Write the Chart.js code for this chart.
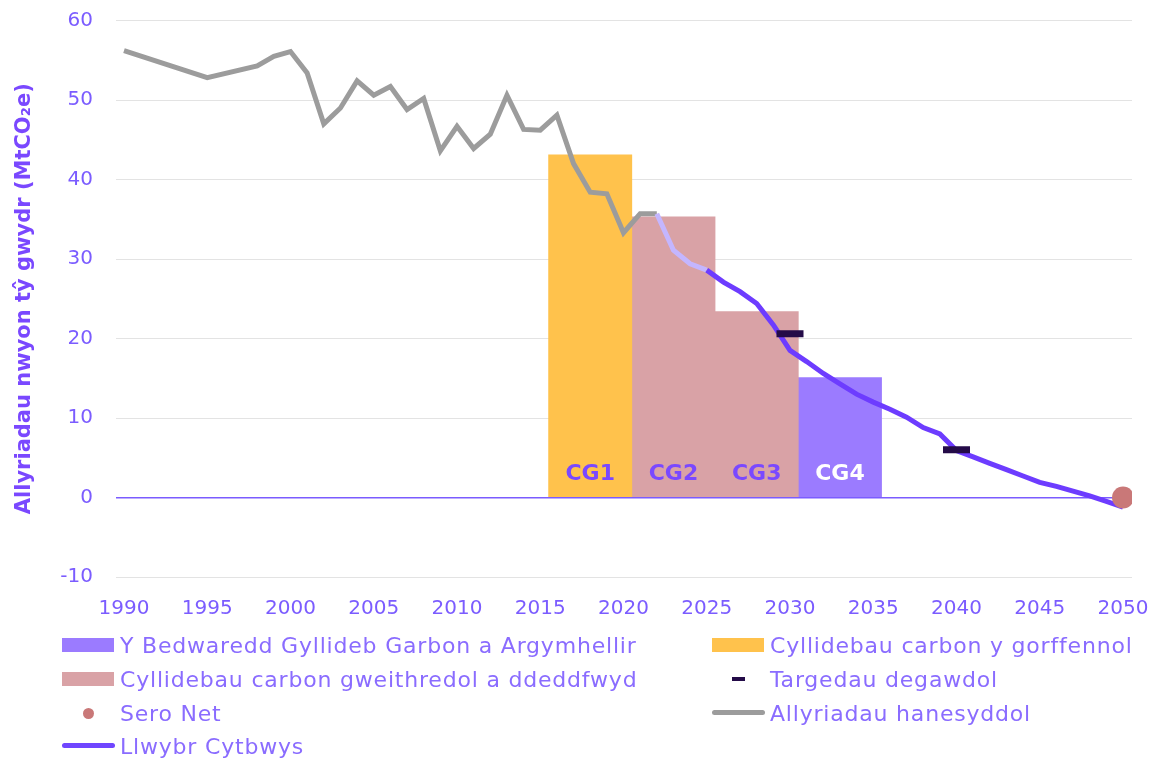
<!DOCTYPE html>
<html>
<head>
<meta charset="utf-8">
<script src="https://cdn.jsdelivr.net/npm/chart.js@4.4.1/dist/chart.umd.min.js"></script>
<style>
  body { margin: 0; background: #fff; }
  #wrap { position: relative; width: 1157px; height: 760px; }
  #myChart { position: absolute; left: 0; top: 0; }
  #legend { position: absolute; left: 0; top: 0; width: 1157px; height: 760px; pointer-events: none; }
  .item { position: absolute; height: 30px; display: flex; align-items: center; letter-spacing: 0.8px;
          font-family: "DejaVu Sans", sans-serif; font-size: 22px; color: #8a6cff; white-space: nowrap; }
  .mark { position: relative; width: 52px; height: 30px; margin-right: 6px; }
  .mark span { position: absolute; }
</style>
</head>
<body>
<div id="wrap">
  <canvas id="myChart" width="1157" height="630"></canvas>
  <div id="legend"></div>
</div>
<script>
// historical emissions (MtCO2e)
var histYears = [1990, 1995, 1998, 1999, 2000, 2001, 2002, 2003, 2004, 2005, 2006, 2007, 2008, 2009, 2010,
                 2011, 2012, 2013, 2014, 2015, 2016, 2017, 2018, 2019, 2020, 2021, 2022];
var histValues = [56.2, 52.8, 54.3, 55.5, 56.1, 53.4, 47.0, 49.0, 52.4, 50.6, 51.7, 48.8, 50.2, 43.6, 46.7,
                  43.9, 45.7, 50.6, 46.3, 46.2, 48.1, 42.0, 38.4, 38.2, 33.3, 35.7, 35.7];

// balanced pathway
var pathYears = [2022, 2023, 2024, 2025, 2026, 2027, 2028, 2029, 2030, 2031, 2032, 2033, 2034, 2035, 2036,
                 2037, 2038, 2039, 2040, 2041, 2042, 2043, 2044, 2045, 2046, 2047, 2048, 2049, 2050];
var pathValues = [35.7, 31.1, 29.4, 28.6, 27.1, 25.9, 24.4, 21.7, 18.5, 17.1, 15.6, 14.3, 13.0, 12.0, 11.1,
                  10.1, 8.8, 8.0, 5.9, 5.1, 4.3, 3.5, 2.7, 1.9, 1.4, 0.8, 0.2, -0.5, -1.2];

// carbon budgets (bar centre year, 5 year average level)
var budgetNames = ['CG1', 'CG2', 'CG3', 'CG4'];
var budgetYears = [2018, 2023, 2028, 2033];
var budgetValues = [43.1, 35.3, 23.4, 15.1];

var targetYears = [2030, 2040];
var targetValues = [20.6, 6.0];

var netZeroYear = [2050];
var netZeroValue = [0];

var tickYears = [1990, 1995, 2000, 2005, 2010, 2015, 2020, 2025, 2030, 2035, 2040, 2045, 2050];

var purple = '#7b5cff';
var pathDark = '#6d3cff';
var pathLight = '#c4b6ff';

function pts(xs, ys) {
    return xs.map(function(x, i) { return {x: x, y: ys[i]}; });
}

function barSet(label, idx, color) {
    return {
        type: 'bar', label: label, data: [{x: budgetYears[idx], y: budgetValues[idx]}],
        backgroundColor: color, grouped: false, barPercentage: 1, categoryPercentage: 1,
        order: 10, cgLabel: budgetNames[idx], cgColor: idx === 3 ? '#ffffff' : '#7a48ff'
    };
}

var cgLabels = {
    id: 'cgLabels',
    afterDatasetsDraw: function(chart) {
        var ctx = chart.ctx;
        var y0 = chart.scales.y.getPixelForValue(0);
        chart.data.datasets.forEach(function(ds, i) {
            if (!ds.cgLabel) return;
            chart.getDatasetMeta(i).data.forEach(function(bar) {
                ctx.save();
                ctx.font = 'bold 22px "DejaVu Sans"';
                ctx.fillStyle = ds.cgColor;
                ctx.textAlign = 'center';
                ctx.textBaseline = 'middle';
                ctx.fillText(ds.cgLabel, bar.x, y0 - 23);
                ctx.restore();
            });
        });
    }
};

var ctx = document.getElementById('myChart').getContext('2d');
var chart = new Chart(ctx, {
    type: 'line',
    data: {
        datasets: [
            {
                label: 'Sero Net', data: pts(netZeroYear, netZeroValue), showLine: false,
                pointRadius: 11, pointBackgroundColor: '#c97878', pointBorderWidth: 0, order: 0,
                legendMark: 'dot', legendColor: '#c97878'
            },
            {
                label: 'Targedau degawdol', data: pts(targetYears, targetValues), showLine: false,
                pointStyle: 'line', pointRadius: 13.5, pointBorderWidth: 7, pointBorderColor: '#240b48',
                order: 1, legendMark: 'dash', legendColor: '#240b48'
            },
            {
                label: 'Llwybr Cytbwys', data: pts(pathYears, pathValues), borderColor: pathDark,
                borderWidth: 5, pointRadius: 0, tension: 0, order: 2,
                segment: { borderColor: function(c) { return c.p1.parsed.x <= 2025 ? pathLight : pathDark; } },
                legendMark: 'line', legendColor: '#7046ff'
            },
            {
                label: 'Allyriadau hanesyddol', data: pts(histYears, histValues), borderColor: '#9c9c9c',
                borderWidth: 5, pointRadius: 0, tension: 0, order: 3,
                legendMark: 'line', legendColor: '#9c9c9c'
            },
            barSet('Cyllidebau carbon y gorffennol', 0, '#ffc24c'),
            barSet('Cyllidebau carbon gweithredol a ddeddfwyd', 1, '#d9a2a6'),
            barSet('Cyllidebau carbon gweithredol a ddeddfwyd', 2, '#d9a2a6'),
            barSet('Y Bedwaredd Gyllideb Garbon a Argymhellir', 3, '#9b7bff')
        ]
    },
    options: {
        responsive: false,
        animation: false,
        layout: { padding: { top: 20, right: 25, bottom: 0, left: 0 } },
        plugins: { legend: { display: false }, tooltip: { enabled: false } },
        scales: {
            x: {
                type: 'linear', min: 1989.52, max: 2050.54, offset: false,
                afterBuildTicks: function(s) { s.ticks = tickYears.map(function(v) { return {value: v}; }); },
                afterFit: function(s) { s.height = 53; s.paddingLeft = 0; s.paddingRight = 0; },
                grid: { display: false, drawTicks: false },
                border: { display: false },
                ticks: { color: purple, padding: 20, maxRotation: 0, autoSkip: false,
                         font: { family: 'DejaVu Sans', size: 20 },
                         callback: function(v) { return String(v); } }
            },
            y: {
                min: -10, max: 60,
                afterFit: function(s) { s.width = 116; s.paddingTop = 0; s.paddingBottom = 0; },
                grid: {
                    drawTicks: false,
                    color: function(c) { return c.tick && c.tick.value === 0 ? purple : '#e3e3e3'; },
                    lineWidth: function(c) { return c.tick && c.tick.value === 0 ? 1.5 : 1; }
                },
                border: { display: false },
                ticks: { stepSize: 10, color: purple, padding: 23, font: { family: 'DejaVu Sans', size: 20 } },
                title: {
                    display: true, text: 'Allyriadau nwyon tŷ gwydr (MtCO₂e)', color: '#7a48ff',
                    padding: { top: 12, bottom: 0 },
                    font: { family: 'DejaVu Sans', size: 21, weight: 'bold' }
                }
            }
        }
    },
    plugins: [cgLabels]
});

// legend laid out in two columns like the original
var legendRows = [
    ['Y Bedwaredd Gyllideb Garbon a Argymhellir', 'Cyllidebau carbon y gorffennol'],
    ['Cyllidebau carbon gweithredol a ddeddfwyd', 'Targedau degawdol'],
    ['Sero Net', 'Allyriadau hanesyddol'],
    ['Llwybr Cytbwys', null]
];
var colX = [62, 712];
var rowY = [630, 664, 698, 731];

function markHtml(ds) {
    var m = ds.legendMark, c = ds.legendColor || ds.backgroundColor;
    if (m === 'dot') return '<span style="left:21px;top:10px;width:11px;height:11px;border-radius:50%;background:' + c + '"></span>';
    if (m === 'dash') return '<span style="left:20px;top:13px;width:13px;height:4px;background:' + c + '"></span>';
    if (m === 'line') return '<span style="left:0;top:12px;width:53px;height:5px;border-radius:3px;background:' + c + '"></span>';
    return '<span style="left:0;top:8px;width:52px;height:14px;background:' + c + '"></span>';
}

var html = '';
legendRows.forEach(function(row, r) {
    row.forEach(function(name, col) {
        if (!name) return;
        var ds = chart.data.datasets.find(function(d) { return d.label === name; });
        html += '<div class="item" style="left:' + colX[col] + 'px;top:' + rowY[r] + 'px">' +
                '<div class="mark">' + markHtml(ds) + '</div>' + name + '</div>';
    });
});
document.getElementById('legend').innerHTML = html;
</script>
</body>
</html>
